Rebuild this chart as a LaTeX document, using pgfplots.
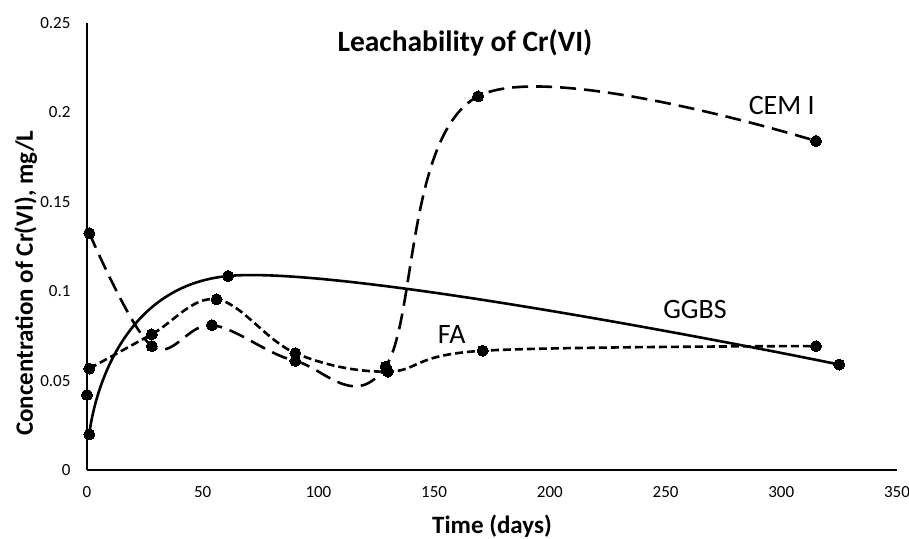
\documentclass[border=0pt]{standalone}
\usepackage{fontspec}
\setmainfont{Carlito}
\usepackage{pgfplots}
\pgfplotsset{compat=1.18}
\begin{document}
\begin{tikzpicture}
\path[use as bounding box] (-87bp,-69bp) rectangle (822bp,470bp);
\begin{axis}[
  at={(0,0)}, anchor=south west,
  scale only axis, width=810bp, height=447bp,
  xmin=0, xmax=350, ymin=0, ymax=0.25,
  axis lines=left,
  axis line style={-, line width=1.3bp},
  major tick length=0pt,
  clip=false,
  xtick={0,50,100,150,200,250,300,350},
  xticklabels={0,50,100,150,200,250,300,350},
  ytick={0,0.05,0.1,0.15,0.2,0.25},
  yticklabels={0,0.05,0.1,0.15,0.2,0.25},
  scaled y ticks=false,
  tick label style={font=\fontsize{17bp}{20bp}\selectfont},
  xticklabel style={yshift=-13bp},
  yticklabel style={xshift=-13bp},
  xlabel={Time (days)},
  ylabel={Concentration of Cr(VI), mg/L},
  label style={font=\fontsize{25bp}{30bp}\selectfont\bfseries},
  xlabel style={at={(axis description cs:0.5,0)}, anchor=base, yshift=-63bp},
  ylabel style={at={(axis description cs:-0.0667,0.418)}, anchor=base, rotate=0},
  every axis plot/.append style={line width=2.6bp, black},
  mark options={solid, fill=black, line width=0pt},
]
% CEM I
\addplot[smooth, tension=0.6, dash pattern=on 16bp off 8bp, mark=*, mark size=5.5bp]
  coordinates {(1,0.1325) (28,0.0693) (54,0.081) (90,0.061) (129,0.0578) (169,0.209) (315,0.184)};
% GGBS
\addplot[smooth, tension=0.6, solid, mark=*, mark size=5.5bp]
  coordinates {(1,0.020) (61,0.1085) (325,0.059)};
% FA
\addplot[smooth, tension=0.6, dash pattern=on 8bp off 4bp, mark=*, mark size=5.5bp]
  coordinates {(1,0.0567) (28,0.0759) (56,0.0955) (90,0.0654) (130,0.055) (171,0.0667) (315,0.0693)};
% lone point
\addplot[only marks, mark=*, mark size=5.5bp] coordinates {(0,0.042)};
\node[anchor=base, font=\fontsize{29.5bp}{34bp}\selectfont\bfseries] at (axis cs:163.3,0.2338) {Leachability of Cr(VI)};
\node[anchor=base, font=\fontsize{28bp}{32bp}\selectfont] at (axis cs:300.2,0.199) {CEM I};
\node[anchor=base, font=\fontsize{28bp}{32bp}\selectfont] at (axis cs:262.7,0.085) {GGBS};
\node[anchor=base, font=\fontsize{28bp}{32bp}\selectfont] at (axis cs:157.6,0.071) {FA};
\end{axis}
\end{tikzpicture}
\end{document}
